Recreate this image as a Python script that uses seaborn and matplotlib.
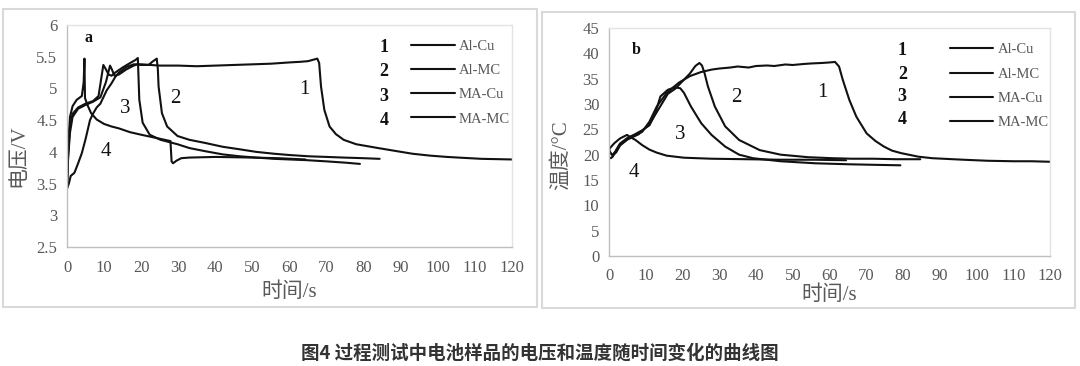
import matplotlib
matplotlib.use("Agg")
import matplotlib.pyplot as plt
from matplotlib.patches import Rectangle
import seaborn as sns
import pandas as pd

# ---- data ----
names = ["Al-Cu", "Al-MC", "MA-Cu", "MA-MC"]
nums = ["1", "2", "3", "4"]

# (a) voltage vs time
t_v1 = [0, 0.5, 1, 2, 3, 4, 5, 6.2, 7, 8, 9, 10.7, 12, 13, 14, 16.1, 18, 20, 25, 30, 35, 40, 45,
        50, 55, 60, 63, 65, 67.5, 68, 68.5, 69.4, 70.8, 72.5, 74.6, 78, 83.9, 88, 93.2, 98, 102.5,
        107, 111.8, 116, 120]
v1 = [3.42, 3.5, 3.62, 3.67, 3.82, 3.98, 4.2, 4.5, 4.6, 4.7, 4.76, 4.97, 5.08, 5.18, 5.25, 5.34,
      5.38, 5.38, 5.36, 5.36, 5.35, 5.36, 5.37, 5.38, 5.39, 5.41, 5.42, 5.43, 5.47, 5.4, 5.03,
      4.66, 4.4, 4.28, 4.19, 4.12, 4.06, 4.02, 3.97, 3.94, 3.92, 3.905, 3.89, 3.885, 3.88]
t_v2 = [0, 0.3, 0.8, 1.5, 3, 5, 7, 9, 10.5, 11.6, 12.1, 12.8, 14, 16, 18, 19, 20, 22, 23, 24.2,
        24.5, 24.7, 25.6, 27, 29.8, 33, 37.3, 42, 46.6, 51, 55.9, 60, 65.2, 70, 74.6, 80, 84.3]
v2 = [3.45, 3.9, 4.3, 4.55, 4.68, 4.74, 4.79, 4.86, 5.1, 5.36, 5.3, 5.2, 5.22, 5.3, 5.36, 5.38,
      5.37, 5.37, 5.42, 5.47, 5.3, 5.03, 4.61, 4.4, 4.25, 4.19, 4.14, 4.08, 4.04, 4.0, 3.97, 3.95,
      3.93, 3.92, 3.91, 3.9, 3.89]
t_v3 = [0, 0.3, 0.8, 1.5, 3, 5, 7, 8.5, 9.8, 10.5, 11.2, 12, 13, 15, 17, 18.5, 19.1, 19.5, 20.4,
        22.3, 25.2, 29.8, 33, 37.3, 42, 46.6, 51, 55.9, 60, 64.3, 70, 75, 79]
v3 = [3.42, 3.95, 4.4, 4.6, 4.7, 4.76, 4.8, 4.88, 5.37, 5.3, 5.22, 5.2, 5.25, 5.33, 5.4, 5.45,
      5.48, 4.82, 4.46, 4.27, 4.19, 4.12, 4.06, 4.01, 3.96, 3.93, 3.91, 3.89, 3.88, 3.87, 3.85,
      3.83, 3.81]
t_v4 = [0, 0.3, 0.8, 1.5, 2.6, 4, 4.5, 4.7, 4.85, 5.5, 6.5, 8, 10, 12, 14, 17, 20, 24, 27.9,
        28.2, 28.6, 29.5, 30.8, 33, 40, 50, 57, 64.3]
v4 = [3.42, 4.1, 4.55, 4.72, 4.82, 4.88, 5.1, 5.47, 4.85, 4.74, 4.61, 4.51, 4.44, 4.4, 4.37,
      4.31, 4.27, 4.22, 4.17, 3.85, 3.82, 3.86, 3.9, 3.91, 3.92, 3.91, 3.9, 3.88]

# (b) temperature vs time
t_T1 = [0, 0.5, 1, 2, 3, 5, 7, 9, 11, 13, 15.5, 17, 19, 22, 25, 28, 30, 33, 35, 38, 40, 43, 45,
        48, 50, 53, 55, 58, 60, 61.5, 62.6, 63.6, 65.4, 67.3, 70.1, 72.5, 74.8, 77, 79.5, 84.2,
        88, 93.6, 98, 103, 110, 115, 120]
T1 = [20.5, 20.2, 20, 20.8, 22, 23, 23.8, 24.5, 26.5, 29.5, 32, 33, 34.2, 35.5, 36.3, 36.8, 37,
      37.2, 37.4, 37.2, 37.5, 37.6, 37.5, 37.8, 37.7, 37.9, 38.0, 38.1, 38.2, 38.3, 37.4, 34.8,
      30.8, 27.5, 24.2, 22.7, 21.6, 20.8, 20.3, 19.6, 19.3, 19.1, 18.95, 18.8, 18.7, 18.7, 18.6]
t_T2 = [0, 0.5, 1, 2, 3, 5, 8, 11, 13.5, 16, 18, 20, 22, 23.5, 24.6, 25.3, 26, 26.9, 28.8, 31.6,
        35.4, 41, 46.7, 54.2, 60.8, 66, 72, 78, 84.7]
T2 = [21, 20.3, 19.8, 20.5, 21.8, 23, 24, 26, 29, 32, 33, 34.5, 36, 37.5, 38.1, 37.6, 36.1, 33.5,
      29.5, 25.6, 22.9, 20.9, 20, 19.5, 19.3, 19.2, 19.2, 19.1, 19.1]
t_T3 = [0, 0.5, 1, 2, 3, 5, 7, 9, 11, 12.5, 14, 16, 18, 19.4, 20.4, 22.3, 25.1, 27.9, 31.6, 35.4,
        39.2, 46.7, 56.1, 65.4, 72, 79.3]
T3 = [19.5, 19.3, 19.6, 21, 22.2, 23.3, 24, 24.8, 25.8, 28, 31.5, 32.8, 33.3, 33.1, 32.2, 29.5,
      26.2, 23.9, 21.6, 20, 19.3, 18.7, 18.3, 18.1, 18.0, 17.9]
t_T4 = [0, 0.5, 1.5, 3, 4.9, 5.5, 7.2, 9, 11, 13, 15.7, 20.4, 27.9, 37.3, 46.7, 56, 64.5]
T4 = [21, 21.5, 22.3, 23.2, 23.9, 23.6, 22.9, 21.9, 21, 20.4, 19.8, 19.4, 19.2, 19.1, 19, 19, 18.9]

# curve number labels placed on the plots
lab_v = [(64, 4.99), (29.2, 4.84), (15.7, 4.68), (10.4, 4.01)]
lab_T = [(58.1, 32.3), (34.7, 31.3), (19.4, 23.9), (6.9, 16.5)]

x_ticks = list(range(0, 121, 10))
v_ticks = [2.5, 3, 3.5, 4, 4.5, 5, 5.5, 6]
v_labels = ["2.5", "3", "3.5", "4", "4.5", "5", "5.5", "6"]
T_ticks = list(range(0, 46, 5))

sns.set_style("white")
serif = ["Liberation Serif", "Noto Sans CJK SC"]
plt.rcParams["font.family"] = serif

W, H = 1080, 366
fig = plt.figure(figsize=(W / 100, H / 100), dpi=100)

# outer panel frames
for x0, y0, x1, y1 in [(3, 9, 537, 307), (542, 12, 1075, 308)]:
    fig.add_artist(Rectangle((x0 / W, 1 - y1 / H), (x1 - x0) / W, (y1 - y0) / H,
                             transform=fig.transFigure, fill=False,
                             edgecolor="#d9d9d9", linewidth=1.5))

ax1 = fig.add_axes([67 / W, 1 - 247 / H, 445 / W, 222 / H])
ax2 = fig.add_axes([609 / W, 1 - 256 / H, 441 / W, 228 / H])


def draw_panel(ax, series, labels, yticks, ylabels, ylim, ylab, letter, letter_xy,
               num_x, rows, leg_anchor, ylab_xy, xlab_y):
    for (t, y), name in zip(series, names):
        df = pd.DataFrame({"t": t, "y": y})
        sns.lineplot(data=df, x="t", y="y", ax=ax, color="#111111", linewidth=1.5,
                     sort=False, estimator=None, label=name)
    ax.set_xlim(0, 120)
    ax.set_ylim(*ylim)
    ax.set_xticks(x_ticks)
    ax.set_yticks(yticks)
    ax.set_yticklabels(ylabels)
    ax.tick_params(direction="out", length=4, width=0.8, color="#bfbfbf",
                   labelcolor="#595959", labelsize=12, pad=3)
    ax.tick_params(axis="x", pad=5)
    for s in ["left", "bottom"]:
        ax.spines[s].set_color("#bfbfbf")
        ax.spines[s].set_linewidth(1.0)
    for s in ["top", "right"]:
        ax.spines[s].set_color("#e3e3e3")
        ax.spines[s].set_linewidth(1.0)
    ax.set_xlabel("时间/s", fontsize=15, color="#595959")
    ax.set_ylabel(ylab, fontsize=15, color="#595959")
    ax.xaxis.set_label_coords(0.5, xlab_y)
    ax.xaxis.label.set_va("center")
    ax.yaxis.set_label_coords(*ylab_xy)
    ax.yaxis.label.set_va("center")

    ax.text(*letter_xy, letter, fontsize=11.5, fontweight="bold", color="#111111",
            ha="center", va="center")
    for (x, y), n in zip(labels, nums):
        ax.text(x, y, n, fontsize=15, color="#111111", ha="center", va="center")
    for y, n in zip(rows, nums):
        ax.text(num_x, y, n, fontsize=13, fontweight="bold", color="#111111",
                ha="center", va="center")
    leg = ax.legend(loc="upper left", bbox_to_anchor=leg_anchor, frameon=False,
                    fontsize=10.5, handlelength=3.0, handletextpad=0.3, labelspacing=0.76,
                    borderpad=0, borderaxespad=0)
    for txt in leg.get_texts():
        txt.set_color("#595959")


draw_panel(ax1, [(t_v1, v1), (t_v2, v2), (t_v3, v3), (t_v4, v4)], lab_v,
           v_ticks, v_labels, (2.5, 6), "电压/V", "a", (5.8, 5.79),
           85.5, [5.65, 5.26, 4.88, 4.50], (0.7725, 0.935), (-0.108, 0.41), -0.203)
draw_panel(ax2, [(t_T1, T1), (t_T2, T2), (t_T3, T3), (t_T4, T4)], lab_T,
           T_ticks, [str(v) for v in T_ticks], (0, 45), "温度/°C", "b", (7.5, 40.7),
           79.8, [40.5, 35.9, 31.4, 26.9], (0.7725, 0.933), (-0.109, 0.44), -0.17)

fig.text(0.5, 1 - 353 / H, "图4 过程测试中电池样品的电压和温度随时间变化的曲线图",
         family=["Noto Sans CJK SC", "DejaVu Sans"], fontweight="bold", fontsize=13.3,
         color="#333333", ha="center", va="center")

fig.savefig("out.png", dpi=100, facecolor="white")
